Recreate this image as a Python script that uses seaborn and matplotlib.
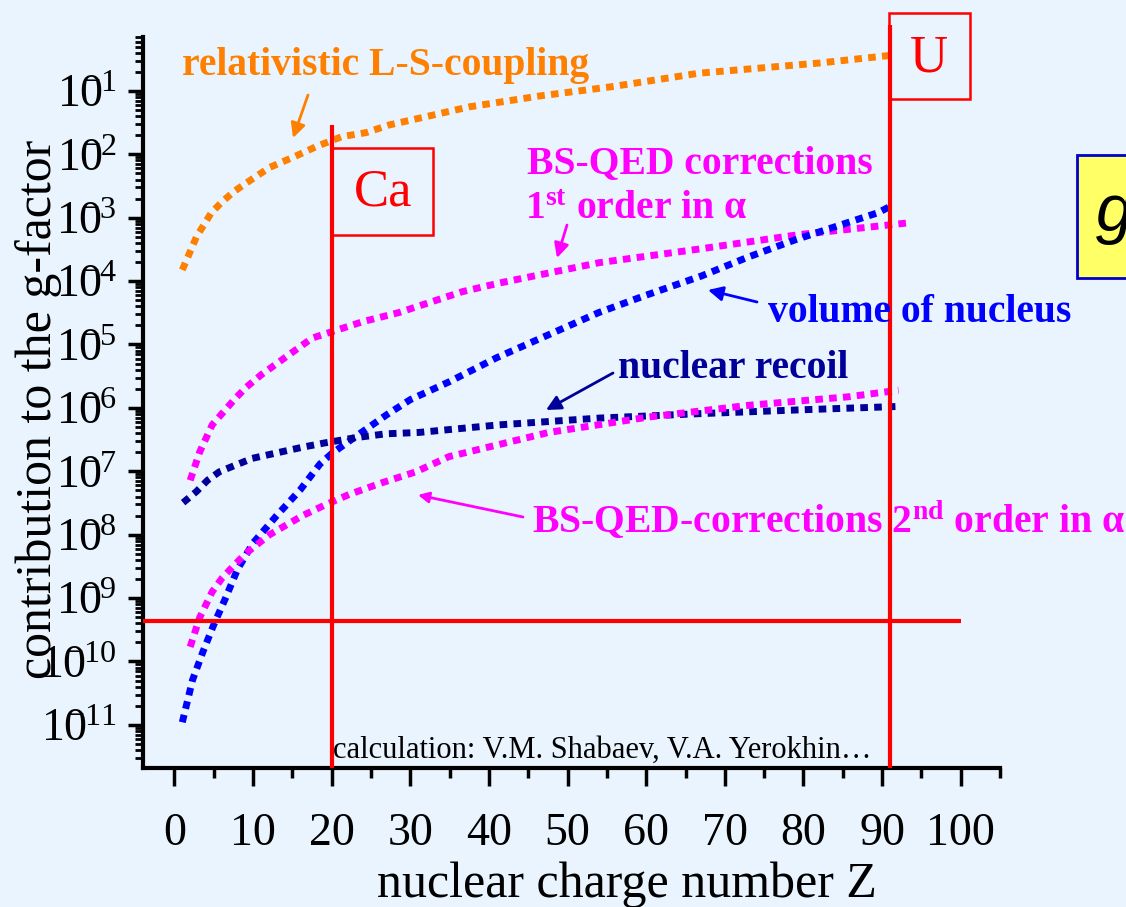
import numpy as np
import seaborn as sns
import matplotlib.pyplot as plt
from matplotlib.patches import Rectangle
from matplotlib.ticker import LogLocator, FuncFormatter, MultipleLocator, NullFormatter

# contributions to the g-factor vs nuclear charge Z
z_ls = [1.0, 2.8, 4.7, 6.1, 7.6, 9.1, 12.1, 15.2, 18.2, 21.3, 24.4, 27.3, 31.1, 37.5, 46.4, 55.3, 59.5, 66.7, 82.0, 91.7]
ls_coupling = [1.5e-4, 5.0e-4, 1.2e-3, 1.8e-3, 2.6e-3, 3.5e-3, 6.2e-3, 9.1e-3, 1.35e-2, 1.9e-2,
               2.2e-2, 2.9e-2, 3.7e-2, 5.6e-2, 8.3e-2, 0.115, 0.138, 0.19, 0.275, 0.37]

z_qed1 = [2.0, 3.2, 4.8, 7.6, 9.1, 11.0, 17.5, 24.0, 28.6, 36.6, 41.3, 54.0, 66.7, 79.4, 93.4]
qed1 = [7.2e-8, 2.0e-7, 5.4e-7, 1.35e-6, 2.1e-6, 3.3e-6, 1.26e-5, 2.3e-5, 3.2e-5, 6.8e-5,
        9.3e-5, 1.95e-4, 3.2e-4, 5.4e-4, 8.3e-4]

z_vol = [1.0, 2.3, 3.6, 5.0, 6.5, 8.0, 10.0, 13.0, 16.0, 18.5, 20.0, 23.0, 27.0, 30.0, 35.0, 41.0,
         48.0, 54.0, 60.0, 67.0, 73.0, 79.0, 89.5, 91.0]
volume = [1.1e-11, 5.1e-11, 1.4e-10, 3.8e-10, 1.0e-9, 2.8e-9, 7.4e-9, 2.0e-8, 5.1e-8, 1.3e-7, 1.9e-7,
          3.5e-7, 7.8e-7, 1.35e-6, 2.6e-6, 6.2e-6, 1.5e-5, 3.2e-5, 6.0e-5, 1.2e-4, 2.4e-4, 4.5e-4,
          1.2e-3, 1.5e-3]

z_rec = [1.1, 2.8, 4.2, 5.7, 7.2, 9.9, 13.0, 16.3, 19.1, 23.1, 26.9, 31.1, 41.3, 54.0, 66.7, 79.4, 91.7]
recoil = [3.2e-8, 4.8e-8, 7.2e-8, 9.8e-8, 1.17e-7, 1.6e-7, 1.95e-7, 2.4e-7, 2.8e-7, 3.4e-7, 3.9e-7,
          4.1e-7, 5.4e-7, 6.9e-7, 8.1e-7, 9.3e-7, 1.05e-6]

z_qed2 = [2.0, 3.2, 4.8, 6.1, 7.6, 9.1, 12.1, 16.3, 19.3, 22.2, 26.4, 30.7, 34.9, 47.6, 60.4, 73.1, 85.8, 92.1]
qed2 = [1.7e-10, 4.9e-10, 1.26e-9, 2.1e-9, 3.3e-9, 5.1e-9, 1.0e-8, 2.0e-8, 3.0e-8, 4.3e-8, 6.6e-8,
        9.8e-8, 1.7e-7, 4.1e-7, 7.2e-7, 1.1e-6, 1.5e-6, 1.9e-6]

z_ca, z_u = 20, 91
accuracy = 4.4e-10

bg = '#EAF4FE'
orange, magenta, blue, navy = '#FF8000', '#FF00FF', '#0000FF', '#000099'

sns.set_theme(style='ticks', rc={'axes.facecolor': bg, 'figure.facecolor': bg})
plt.rcParams['font.family'] = ['Liberation Serif', 'DejaVu Serif']
plt.rcParams['mathtext.fontset'] = 'custom'
plt.rcParams['mathtext.rm'] = 'Liberation Serif'
plt.rcParams['mathtext.bf'] = 'Liberation Serif:bold'
plt.rcParams['mathtext.default'] = 'regular'

W, H = 1126, 907
def fp(x, y):
    return x / W, 1 - y / H

fig = plt.figure(figsize=(W / 100, H / 100), dpi=100)
ax = fig.add_axes([143 / W, 1 - 768 / H, (1000 - 143) / W, (768 - 37) / H])
ax.set_yscale('log')
ylo, yhi = 10 ** -11.68, 10 ** -0.15

dots = (0, (1.1, 0.9))
for z, v, c in [(z_ls, ls_coupling, orange), (z_qed1, qed1, magenta), (z_vol, volume, blue),
                (z_rec, recoil, navy), (z_qed2, qed2, magenta)]:
    sns.lineplot(x=z, y=v, ax=ax, color=c, lw=5, linestyle=dots, zorder=2)

# red markers: Ca, U and the experimental accuracy
ax.vlines(z_ca, ylo, 10 ** -1.54, color='red', lw=3, zorder=3)
ax.vlines(z_u, ylo, 10 ** 0.04, color='red', lw=3, zorder=3, clip_on=False)
ax.hlines(accuracy, -4, 100, color='red', lw=3, zorder=3)

ax.set_xlim(-4, 105)
ax.set_ylim(ylo, yhi)
ax.xaxis.set_major_locator(MultipleLocator(10))
ax.xaxis.set_minor_locator(MultipleLocator(5))
ax.yaxis.set_major_locator(LogLocator(base=10, numticks=30))
ax.yaxis.set_minor_locator(LogLocator(base=10, subs=np.arange(2, 10), numticks=30))

def dec_label(v, pos):
    # exponent tucked over the "0" as on the slide
    n = int(round(np.log10(v)))
    return r'$10^{\!\!\!\!{-}%d}$' % abs(n)

ax.yaxis.set_major_formatter(FuncFormatter(dec_label))
ax.yaxis.set_minor_formatter(NullFormatter())

ax.tick_params(axis='x', which='major', direction='out', length=13, width=2.5, pad=19,
               labelsize=33, color='black', labelcolor='black')
ax.tick_params(axis='x', which='minor', direction='out', length=7, width=2.5, color='black')
ax.tick_params(axis='y', which='major', direction='out', length=11, width=2.5, pad=8,
               labelsize=33, color='black', labelcolor='black')
ax.tick_params(axis='y', which='minor', direction='out', length=6, width=2, color='black')
for s in ['top', 'right']:
    ax.spines[s].set_visible(False)
for s in ['left', 'bottom']:
    ax.spines[s].set_linewidth(3)
    ax.spines[s].set_color('black')

ax.set_xlabel('nuclear charge number Z', fontsize=36, color='black', va='center')
ax.xaxis.set_label_coords(0.565, -0.16)
ax.set_ylabel('contribution to the g-factor', fontsize=36, color='black', va='center')
ax.yaxis.set_label_coords(-0.1225, 0.49)

# annotations
def note(x, y, s, c, tail, tip, ms=22):
    fig.text(*fp(x, y), s, color=c, fontsize=28.5, fontweight='bold', va='baseline')
    ax.annotate('', xy=fp(*tip), xytext=fp(*tail), xycoords='figure fraction',
                arrowprops=dict(arrowstyle='-|>', color=c, lw=2, mutation_scale=ms,
                                shrinkA=0, shrinkB=0))

note(182, 75, 'relativistic L-S-coupling', orange, (308, 95), (293, 138))
fig.text(*fp(527, 173), 'BS-QED corrections', color=magenta, fontsize=28.5, fontweight='bold', va='baseline')
note(525, 219, '1$^{st}$ order in α', magenta, (567, 225), (557, 258))
note(768, 322, 'volume of nucleus', blue, (757, 302), (708, 290))
note(618, 378, 'nuclear recoil', navy, (613, 373), (546, 410))
note(532, 533, 'BS-QED-corrections 2$^{nd}$ order in α', magenta, (523, 517), (418, 495), ms=16)
fig.text(*fp(333, 758), 'calculation: V.M. Shabaev, V.A. Yerokhin…', color='black', fontsize=22, va='baseline')

# element boxes
fig.add_artist(Rectangle(fp(332, 235), 101 / W, 87 / H, transform=fig.transFigure,
                         fill=False, ec='red', lw=1.8))
fig.text(*fp(383, 193), 'Ca', color='red', fontsize=38, ha='center', va='center')
fig.add_artist(Rectangle(fp(889, 99), 81 / W, 86 / H, transform=fig.transFigure,
                         fill=False, ec='red', lw=1.8))
fig.text(*fp(929, 58), 'U', color='red', fontsize=38, ha='center', va='center')

# formula box cut off at the right edge of the slide
fig.add_artist(Rectangle(fp(1077, 278), 60 / W, 123 / H, transform=fig.transFigure,
                         fc='#FFFF66', ec='#0000CC', lw=2))
fig.text(*fp(1096, 231), 'g', family=['Liberation Sans', 'DejaVu Sans'], fontstyle='italic',
         fontsize=48, color='black', va='baseline')

fig.savefig('out.png', dpi=100, facecolor=bg)
